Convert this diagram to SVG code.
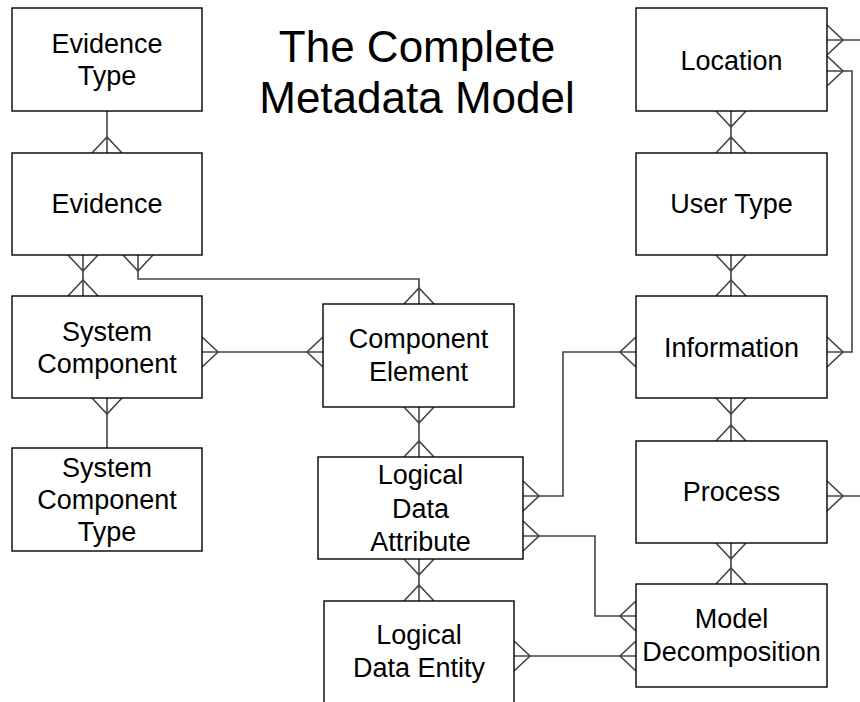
<svg xmlns="http://www.w3.org/2000/svg" width="860" height="702" viewBox="0 0 860 702">
<style>
.box{fill:#fff;stroke:#000;stroke-width:1.4}
.lbl{font-family:"Liberation Sans",Arial,sans-serif;font-size:27px;fill:#000;text-anchor:middle}
.title{font-family:"Liberation Sans",Arial,sans-serif;font-size:44px;fill:#000;text-anchor:middle}
.conn path{fill:none;stroke:#444;stroke-width:1.6}
.both{marker-start:url(#crow);marker-end:url(#crow)}
.one{marker-end:url(#crow)}
</style>
<defs>
<marker id="crow" markerUnits="userSpaceOnUse" orient="auto-start-reverse" overflow="visible" markerWidth="1" markerHeight="1" refX="0" refY="0">
<path d="M0,-15 L-16,0 L0,15" fill="none" stroke="#444" stroke-width="1.6"/>
</marker>
</defs>
<rect width="860" height="702" fill="#fff"/>
<g id="title">
<text class="title" x="417" y="62">The Complete</text>
<text class="title" x="417" y="113">Metadata Model</text>
</g>
<g id="connectors" class="conn">
<path class="one" d="M107,111 V153"/>
<path class="both" d="M83,255 V296"/>
<path class="both" d="M138,255 V279 H419 V304"/>
<path class="both" d="M202,352 H323"/>
<path class="one" d="M107,448 V398"/>
<path class="both" d="M419,407 V457"/>
<path class="both" d="M523,496 H563 V352 H636"/>
<path class="both" d="M523,536 H595 V616 H636"/>
<path class="both" d="M419,559 V601"/>
<path class="both" d="M514,656 H636"/>
<path class="both" d="M731,111 V153"/>
<path class="both" d="M731,255 V296"/>
<path class="both" d="M731,398 V441"/>
<path class="both" d="M731,543 V584"/>
<path class="one" d="M860,40 H827"/>
<path class="both" d="M827,71 H852 V352 H827"/>
<path class="one" d="M860,496 H827"/>
</g>
<g id="evidence-type"><rect class="box" x="12" y="8" width="190" height="103"/><text class="lbl" x="107" y="53">Evidence</text><text class="lbl" x="107" y="85">Type</text></g>
<g id="evidence"><rect class="box" x="12" y="153" width="190" height="102"/><text class="lbl" x="107" y="213">Evidence</text></g>
<g id="system-component"><rect class="box" x="12" y="296" width="190" height="102"/><text class="lbl" x="107" y="341">System</text><text class="lbl" x="107" y="373">Component</text></g>
<g id="system-component-type"><rect class="box" x="12" y="448" width="190" height="103"/><text class="lbl" x="107" y="477">System</text><text class="lbl" x="107" y="509">Component</text><text class="lbl" x="107" y="541">Type</text></g>
<g id="component-element"><rect class="box" x="323" y="304" width="191" height="103"/><text class="lbl" x="418.5" y="348">Component</text><text class="lbl" x="418.5" y="381">Element</text></g>
<g id="logical-data-attribute"><rect class="box" x="318" y="457" width="205" height="102"/><text class="lbl" x="420.5" y="484">Logical</text><text class="lbl" x="420.5" y="518">Data</text><text class="lbl" x="420.5" y="551">Attribute</text></g>
<g id="logical-data-entity"><rect class="box" x="324" y="601" width="190" height="110"/><text class="lbl" x="419" y="644">Logical</text><text class="lbl" x="419" y="677">Data Entity</text></g>
<g id="location"><rect class="box" x="636" y="8" width="191" height="103"/><text class="lbl" x="731.5" y="69.5">Location</text></g>
<g id="user-type"><rect class="box" x="636" y="153" width="191" height="102"/><text class="lbl" x="731.5" y="213">User Type</text></g>
<g id="information"><rect class="box" x="636" y="296" width="191" height="102"/><text class="lbl" x="731.5" y="357">Information</text></g>
<g id="process"><rect class="box" x="636" y="441" width="191" height="102"/><text class="lbl" x="731.5" y="501">Process</text></g>
<g id="model-decomposition"><rect class="box" x="636" y="584" width="191" height="103"/><text class="lbl" x="731.5" y="628">Model</text><text class="lbl" x="731.5" y="661">Decomposition</text></g>
</svg>
